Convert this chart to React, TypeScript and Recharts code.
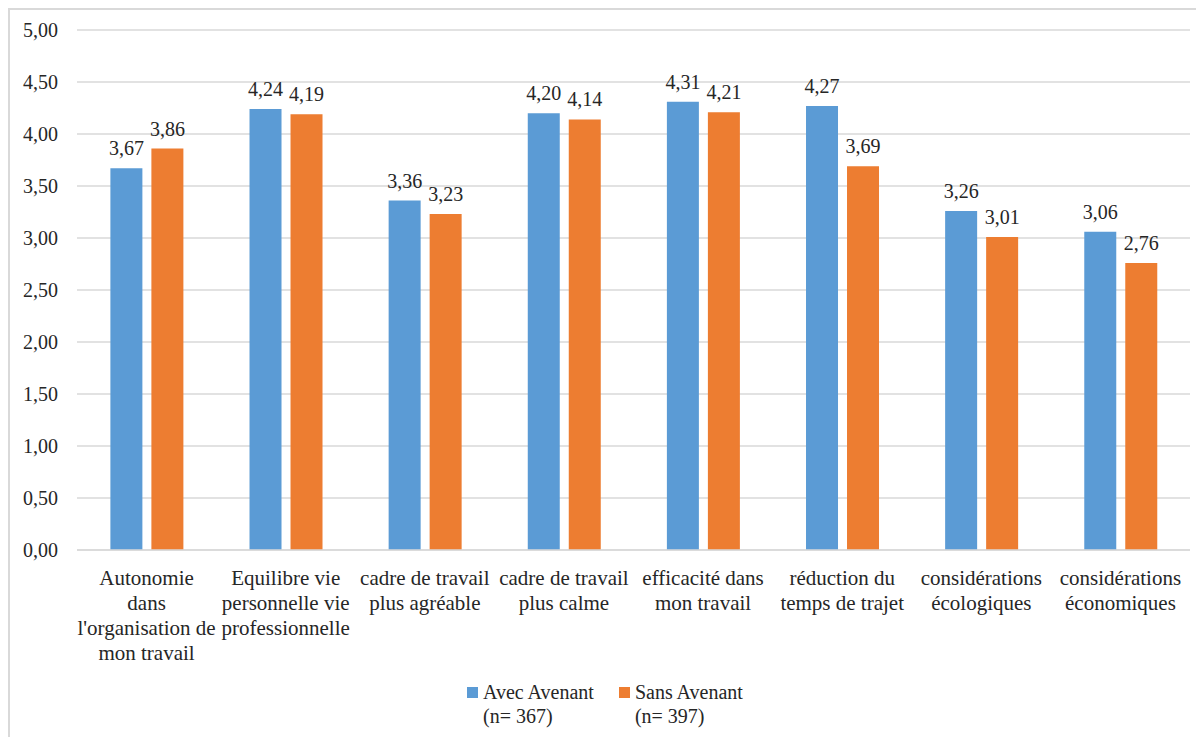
import { BarChart, Bar, XAxis, YAxis, CartesianGrid, LabelList } from 'recharts';

// Catégories (libellés coupés en lignes comme dans l'original)
const categoryLines: string[][] = [
  ['Autonomie', 'dans', "l'organisation de", 'mon travail'],
  ['Equilibre vie', 'personnelle vie', 'professionnelle'],
  ['cadre de travail', 'plus agréable'],
  ['cadre de travail', 'plus calme'],
  ['efficacité dans', 'mon travail'],
  ['réduction du', 'temps de trajet'],
  ['considérations', 'écologiques'],
  ['considérations', 'économiques'],
];

const avecAvenant = [3.67, 4.24, 3.36, 4.2, 4.31, 4.27, 3.26, 3.06];
const sansAvenant = [3.86, 4.19, 3.23, 4.14, 4.21, 3.69, 3.01, 2.76];

const yTicks = [0, 0.5, 1, 1.5, 2, 2.5, 3, 3.5, 4, 4.5, 5];

const series = [
  { key: 'avec', name: 'Avec Avenant', sub: '(n= 367)', color: '#5B9BD5', values: avecAvenant },
  { key: 'sans', name: 'Sans Avenant', sub: '(n= 397)', color: '#ED7D31', values: sansAvenant },
];

const data = categoryLines.map((lines, i) => ({
  name: lines.join(' '),
  avec: avecAvenant[i],
  sans: sansAvenant[i],
}));

const FONT = "'Liberation Serif', 'DejaVu Serif', serif";
const TEXT = '#262626';

const fmt = (v: number) => v.toFixed(2).replace('.', ',');

const XTick = ({ x, y, index }: any) => {
  const lines = categoryLines[index] || [];
  return (
    <text x={x} y={y + 35} textAnchor="middle" fill={TEXT} style={{ fontFamily: FONT }} fontSize={21}>
      {lines.map((l, i) => (
        <tspan key={i} x={x} dy={i === 0 ? 0 : 25}>
          {l}
        </tspan>
      ))}
    </text>
  );
};

export default function App() {
  return (
    <div
      style={{
        position: 'relative',
        width: 1196,
        height: 729,
        borderTop: '2px solid #d9d9d9',
        borderLeft: '2px solid #d9d9d9',
        boxSizing: 'border-box',
        background: '#fff',
        fontFamily: FONT,
      }}
    >
      <style>{'body{overflow:hidden}'}</style>
      <BarChart
        width={1194}
        height={700}
        data={data}
        margin={{ top: 20, right: 14, left: 0, bottom: 0 }}
        barCategoryGap="24%"
        barGap={9}
        style={{ fontFamily: FONT }}
      >
        <CartesianGrid vertical={false} stroke="#d9d9d9" strokeWidth={1.5} />
        <YAxis
          domain={[0, 5]}
          ticks={yTicks}
          width={67}
          axisLine={false}
          tickLine={false}
          tickSize={0}
          tickMargin={19}
          tickFormatter={fmt}
          tick={{ fill: TEXT, fontSize: 20, style: { fontFamily: FONT } }}
        />
        <XAxis
          dataKey="name"
          interval={0}
          height={160}
          tickLine={false}
          tickSize={0}
          tickMargin={0}
          axisLine={{ stroke: '#d9d9d9', strokeWidth: 1.5 }}
          tick={<XTick />}
        />
        {series.map((s) => (
          <Bar key={s.key} dataKey={s.key} name={s.name} fill={s.color} isAnimationActive={false}>
            <LabelList
              dataKey={s.key}
              position="top"
              offset={13}
              formatter={(v: any) => fmt(Number(v))}
              style={{ fill: TEXT, fontFamily: FONT, fontSize: 20 }}
            />
          </Bar>
        ))}
      </BarChart>
      <div
        style={{
          position: 'absolute',
          left: 457,
          top: 670,
          display: 'flex',
          gap: 25,
          fontSize: 20,
          lineHeight: '24px',
          color: TEXT,
        }}
      >
        {series.map((s) => (
          <div key={s.key} style={{ display: 'flex', alignItems: 'flex-start' }}>
            <div style={{ width: 11, height: 11, background: s.color, marginTop: 7, marginRight: 5 }} />
            <div>
              <div>{s.name}</div>
              <div>{s.sub}</div>
            </div>
          </div>
        ))}
      </div>
    </div>
  );
}
